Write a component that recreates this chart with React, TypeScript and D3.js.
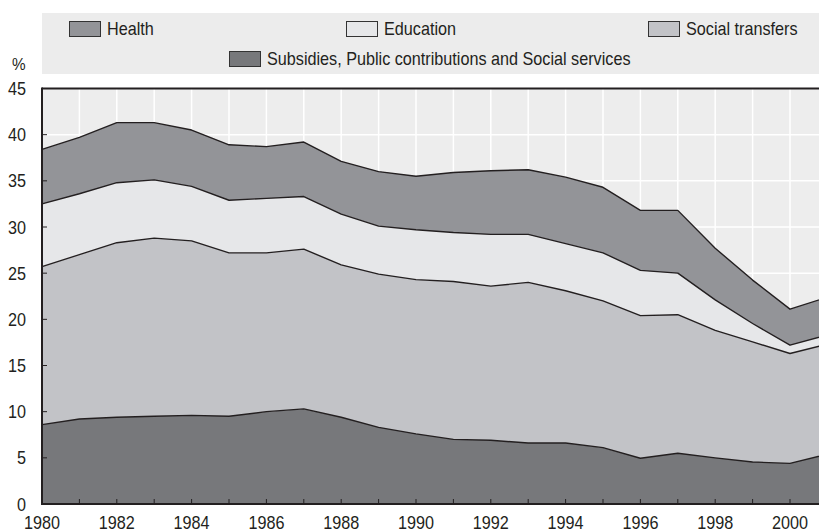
import React from 'react';
import * as d3 from 'd3';

const years = d3.range(1980, 2002);

// values in % (each series is its own slice of the stack)
const subsidies = [8.6, 9.2, 9.4, 9.5, 9.6, 9.5, 10.0, 10.3, 9.4, 8.3, 7.6, 7.0, 6.9, 6.6, 6.6, 6.1, 4.95, 5.5, 5.0, 4.55, 4.4, 5.4];
const socialTransfers = [17.1, 17.8, 18.9, 19.3, 18.9, 17.7, 17.2, 17.3, 16.5, 16.6, 16.7, 17.1, 16.7, 17.4, 16.5, 15.9, 15.45, 15.0, 13.8, 13.0, 11.9, 11.9];
const education = [6.8, 6.6, 6.5, 6.3, 5.9, 5.7, 5.9, 5.7, 5.5, 5.2, 5.4, 5.3, 5.6, 5.2, 5.1, 5.2, 4.9, 4.5, 3.3, 2.0, 0.9, 1.0];
const health = [5.9, 6.1, 6.5, 6.2, 6.1, 6.0, 5.6, 5.9, 5.7, 5.9, 5.8, 6.5, 6.9, 7.0, 7.2, 7.1, 6.5, 6.8, 5.6, 4.7, 3.9, 4.1];

const yTicks = [0, 5, 10, 15, 20, 25, 30, 35, 40, 45];
const xLabelYears = d3.range(1980, 2001, 2);

const keys = ['subsidies', 'social', 'education', 'health'];
const colors: Record<string, string> = {
  subsidies: '#77787b',
  social: '#c2c3c7',
  education: '#e6e7e9',
  health: '#939498',
};

const FONT = '"Liberation Sans", Arial, sans-serif';

// narrow-looking text: regular sans squeezed horizontally
const Txt: React.FC<{ x: number; y: number; anchor?: string; size?: number; children: React.ReactNode }> = ({ x, y, anchor = 'start', size = 18, children }) => (
  <g transform={`translate(${x},${y}) scale(0.9,1)`}>
    <text textAnchor={anchor} fontFamily={FONT} fontSize={size} fill="#231f20">{children}</text>
  </g>
);

const App: React.FC = () => {
  const width = 819;
  const height = 532;
  const left = 42;
  const top = 88.5;
  const bottom = 504;

  const rows = years.map((y, i) => ({
    year: y,
    subsidies: subsidies[i],
    social: socialTransfers[i],
    education: education[i],
    health: health[i],
  }));

  const x = d3.scaleLinear().domain([1980, 2001]).range([left, left + 21 * 37.4]);
  const y = d3.scaleLinear().domain([0, 45]).range([bottom, top]);

  const series = d3.stack<any>().keys(keys)(rows);

  const area = d3.area<any>()
    .x((d) => x(d.data.year))
    .y0((d) => y(d[0]))
    .y1((d) => y(d[1]));
  const line = d3.line<any>()
    .x((d) => x(d.data.year))
    .y((d) => y(d[1]));

  const legendItems = [
    { key: 'health', label: 'Health', x: 69, y: 21 },
    { key: 'education', label: 'Education', x: 346, y: 21 },
    { key: 'social', label: 'Social transfers', x: 648, y: 21 },
    { key: 'subsidies', label: 'Subsidies, Public contributions and Social services', x: 229, y: 51 },
  ];

  return (
    <div style={{ position: 'fixed', left: 0, top: 0 }}>
      <svg width={width} height={height} style={{ display: 'block', background: '#fff' }}>
        {/* legend */}
        <rect x={42} y={13} width={width - 42} height={61} fill="#ececec" />
        {legendItems.map((d) => (
          <g key={d.key}>
            <rect x={d.x + 0.5} y={d.y + 0.5} width={31} height={15} fill={colors[d.key]} stroke="#333" strokeWidth={1} />
            <Txt x={d.x + 38} y={d.y + 14}>{d.label}</Txt>
          </g>
        ))}
        <Txt x={12} y={70} size={17}>%</Txt>

        {/* plot background and grid */}
        <rect x={left} y={top} width={width - left} height={bottom - top} fill="#ededed" />
        {yTicks.slice(1, -1).map((t) => (
          <line key={'gy' + t} x1={left} x2={width} y1={y(t)} y2={y(t)} stroke="#fff" strokeWidth={1.5} />
        ))}
        {years.slice(1).map((yr) => (
          <line key={'gx' + yr} x1={x(yr)} x2={x(yr)} y1={top} y2={bottom} stroke="#fff" strokeWidth={1.5} />
        ))}

        {/* stacked areas */}
        {series.map((s) => (
          <path key={s.key} d={area(s) || ''} fill={colors[s.key]} />
        ))}
        {series.map((s) => (
          <path key={'l' + s.key} d={line(s) || ''} fill="none" stroke="#231f20" strokeWidth={1.4} strokeLinejoin="round" />
        ))}

        {/* ticks */}
        {years.slice(1).map((yr) => (
          <line key={'tx' + yr} x1={x(yr)} x2={x(yr)} y1={bottom} y2={bottom - 5} stroke="#231f20" strokeWidth={1} />
        ))}
        {yTicks.slice(1, -1).map((t) => (
          <line key={'ty' + t} x1={left} x2={left + 5} y1={y(t)} y2={y(t)} stroke="#231f20" strokeWidth={1} />
        ))}

        {/* frame */}
        <line x1={left} x2={width} y1={top} y2={top} stroke="#231f20" strokeWidth={2} />
        <line x1={left} x2={left} y1={top - 1} y2={bottom + 1} stroke="#231f20" strokeWidth={2} />
        <line x1={left - 1} x2={width} y1={bottom} y2={bottom} stroke="#231f20" strokeWidth={2} />

        {/* axis labels */}
        {yTicks.map((t) => (
          <Txt key={'ly' + t} x={26} y={y(t) + 6.5} anchor="end">{t}</Txt>
        ))}
        {xLabelYears.map((yr) => (
          <Txt key={'lx' + yr} x={x(yr)} y={529} anchor="middle">{yr}</Txt>
        ))}
      </svg>
    </div>
  );
};

export default App;
